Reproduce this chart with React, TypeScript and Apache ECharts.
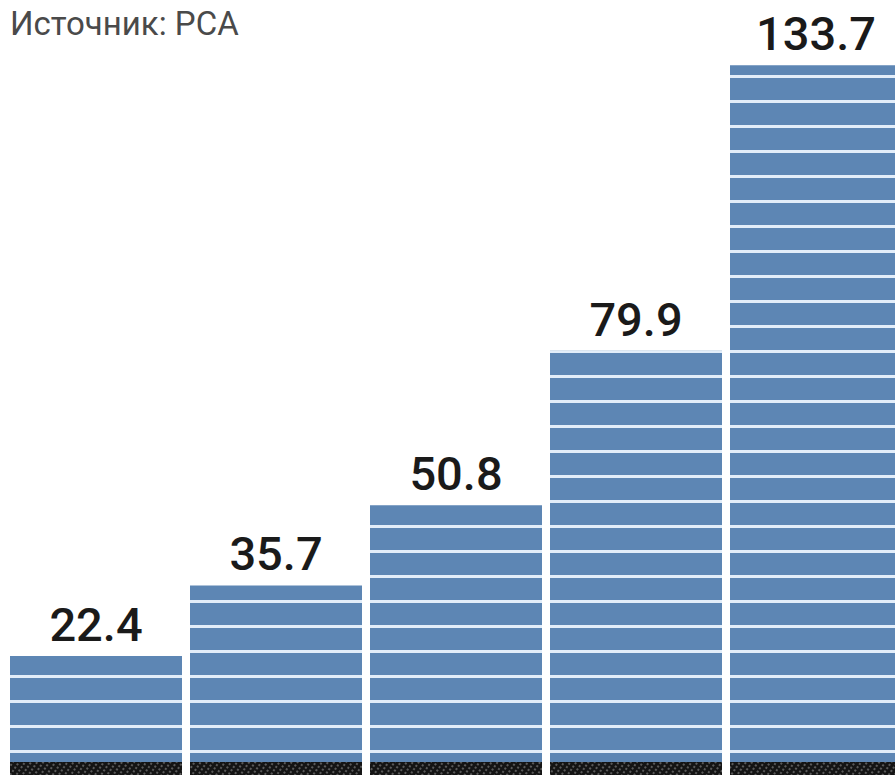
import React, { useEffect, useRef } from "react";
import * as echarts from "echarts";

const categories = ["1", "2", "3", "4", "5"];
const values = [22.4, 35.7, 50.8, 79.9, 133.7];
const baseStrip = [2.45, 2.45, 2.45, 2.45, 2.45];
const sourceText = "Источник: PCA";

export default function App() {
  const ref = useRef<HTMLDivElement>(null);
  useEffect(() => {
    if (!ref.current) return;
    const chart = echarts.init(ref.current, undefined, { renderer: "svg" });
    chart.setOption({
      animation: false,
      backgroundColor: "#ffffff",
      title: {
        text: sourceText,
        left: 10,
        top: 7,
        padding: 0,
        textStyle: {
          fontFamily: "Roboto",
          fontSize: 33,
          fontWeight: "normal",
          color: "#4a4a4a",
        },
      },
      grid: { left: 6, top: 0, bottom: 9, right: 0 },
      xAxis: { type: "category", data: categories, show: false },
      yAxis: { type: "value", min: 0, max: 146, show: false, splitLine: { show: false } },
      series: [
        {
          type: "bar",
          data: values,
          barWidth: 172,
          barGap: "-100%",
          itemStyle: {
            color: "#5d86b4",
            decal: {
              symbol: "rect",
              symbolSize: 1,
              color: "#e2edf9",
              dashArrayX: [1, 0],
              dashArrayY: [3, 22],
              rotation: 0,
            },
          },
          label: {
            show: true,
            position: "top",
            distance: 8,
            formatter: (p: any) => Number(p.value).toFixed(1),
            fontFamily: "Roboto",
            fontSize: 47,
            fontWeight: 500,
            lineHeight: 47,
            color: "#1a1a1a",
          },
        },
        {
          type: "bar",
          data: baseStrip,
          barWidth: 172,
          barGap: "-100%",
          itemStyle: {
            color: "#141414",
            decal: {
              symbol: "rect",
              symbolSize: 1,
              color: "#5a5a5a",
              dashArrayX: [2, 3],
              dashArrayY: [2, 2],
              rotation: 0.6,
            },
          },
        },
      ],
    });
    return () => chart.dispose();
  }, []);
  return (
    <div
      style={{
        position: "absolute",
        left: 0,
        top: 0,
        width: 895,
        height: 784,
        overflow: "hidden",
        background: "#ffffff",
      }}
    >
      <div ref={ref} style={{ width: 906, height: 784 }} />
    </div>
  );
}
